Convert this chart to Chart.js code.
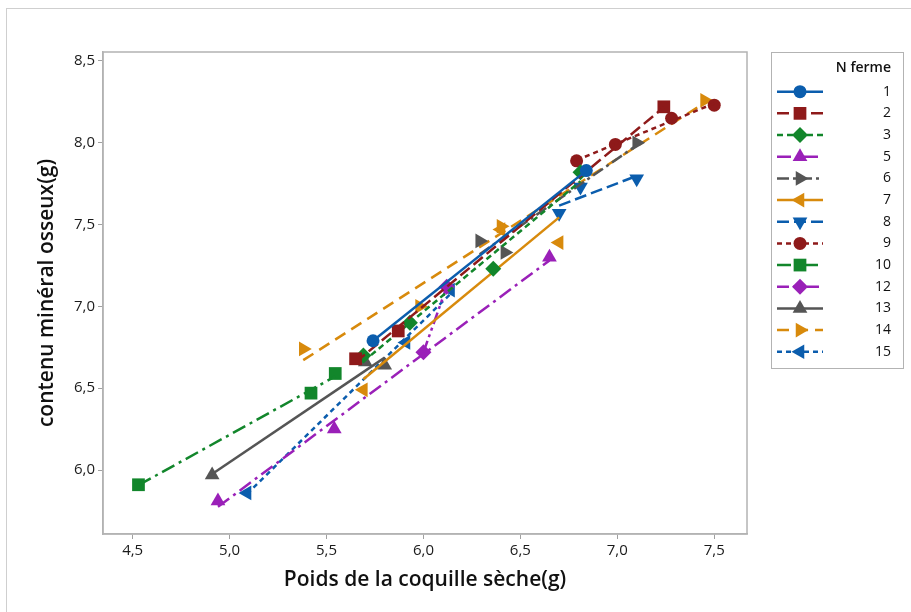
<!DOCTYPE html>
<html><head><meta charset="utf-8">
<script src="https://cdn.jsdelivr.net/npm/chart.js@4.4.1/dist/chart.umd.min.js"></script>
<style>html,body{margin:0;padding:0;background:#fff;} #wrap{position:relative;width:911px;height:612px;}</style>
</head><body><div id="wrap"><canvas id="c" width="911" height="612"></canvas></div>
<script>
// ---- data ----
const groupNames = ['1','2','3','5','6','7','8','9','10','12','13','14','15'];
const xF1 = [5.74, 6.84],             yF1 = [6.79, 7.83];
const xF2 = [5.65, 5.87, 7.24],       yF2 = [6.68, 6.85, 8.22];
const xF3 = [5.69, 5.93, 6.36, 6.81], yF3 = [6.70, 6.90, 7.23, 7.82];
const xF5 = [4.94, 5.54, 6.65],       yF5 = [5.81, 6.25, 7.30];
const xF6 = [6.29, 6.42, 7.10],       yF6 = [7.40, 7.33, 8.00];
const xF7 = [5.69, 6.40, 6.70],       yF7 = [6.49, 7.47, 7.39];
const xF8 = [6.70, 6.81, 7.10],       yF8 = [7.57, 7.73, 7.78];
const xF9 = [6.79, 6.99, 7.28, 7.50], yF9 = [7.89, 7.99, 8.15, 8.23];
const xF10 = [4.53, 5.42, 5.545],     yF10 = [5.91, 6.47, 6.59];
const xF12 = [6.00, 6.12],            yF12 = [6.72, 7.12];
const xF13 = [4.91, 5.70, 5.80],      yF13 = [5.97, 6.66, 6.64];
const xF14 = [5.38, 5.98, 6.40, 7.45],yF14 = [6.74, 7.00, 7.49, 8.26];
const xF15 = [5.09, 5.91, 6.14],      yF15 = [5.86, 6.78, 7.10];
const xTicks = [4.5, 5.0, 5.5, 6.0, 6.5, 7.0, 7.5];
const yTicks = [6.0, 6.5, 7.0, 7.5, 8.0, 8.5];

const seriesX = [xF1,xF2,xF3,xF5,xF6,xF7,xF8,xF9,xF10,xF12,xF13,xF14,xF15];
const seriesY = [yF1,yF2,yF3,yF5,yF6,yF7,yF8,yF9,yF10,yF12,yF13,yF14,yF15];

// ---- styles ----
const BLUE='#0B5DAD', RED='#8E1A1A', GREEN='#12862B', PURPLE='#9A20B8', GRAY='#555555', ORANGE='#D88A0C';
const styles = [
  {c:BLUE,   p:'circle',   r:0,   d:[]},
  {c:RED,    p:'rect',     r:0,   d:[12,5]},
  {c:GREEN,  p:'rectRot',  r:0,   d:[6,4]},
  {c:PURPLE, p:'triangle', r:0,   d:[14,5,3,5]},
  {c:GRAY,   p:'triangle', r:90,  d:[12,4,3,4]},
  {c:ORANGE, p:'triangle', r:270, d:[]},
  {c:BLUE,   p:'triangle', r:180, d:[12,5]},
  {c:RED,    p:'circle',   r:0,   d:[5,4]},
  {c:GREEN,  p:'rect',     r:0,   d:[14,5,3,5]},
  {c:PURPLE, p:'rectRot',  r:0,   d:[12,4,3,4,3,4]},
  {c:GRAY,   p:'triangle', r:0,   d:[]},
  {c:ORANGE, p:'triangle', r:90,  d:[12,7]},
  {c:BLUE,   p:'triangle', r:270, d:[5,4]}
];
const pointR = s => s.p==='circle' ? 6.5 : (s.p==='rect' ? 9 : (s.p==='rectRot' ? 8 : 8.5));

function fitLine(xs, ys){
  const n = xs.length;
  const mx = xs.reduce((a,b)=>a+b,0)/n, my = ys.reduce((a,b)=>a+b,0)/n;
  let sxy=0, sxx=0;
  for(let i=0;i<n;i++){ sxy+=(xs[i]-mx)*(ys[i]-my); sxx+=(xs[i]-mx)*(xs[i]-mx); }
  const b = sxy/sxx, a = my-b*mx;
  const lo = Math.min(...xs), hi = Math.max(...xs);
  return [{x:lo,y:a+b*lo},{x:hi,y:a+b*hi}];
}

const datasets = [];
seriesX.forEach((xs,i)=>{
  const s = styles[i];
  datasets.push({type:'line', label:'fit '+groupNames[i], data:fitLine(xs, seriesY[i]),
    borderColor:s.c, borderWidth:2.5, borderDash:s.d, pointRadius:0, fill:false, tension:0});
  datasets.push({type:'scatter', label:groupNames[i], data:xs.map((x,k)=>({x:x,y:seriesY[i][k]})),
    pointStyle:s.p, rotation:s.r, pointRadius:pointR(s), backgroundColor:s.c, borderColor:s.c, borderWidth:0});
});

const fmt = v => Number(v).toFixed(1).replace('.', ',');
const FONT = "'Open Sans', 'DejaVu Sans', sans-serif";

const decor = {
  id:'decor',
  beforeDraw(chart){
    const ctx = chart.ctx;
    ctx.save();
    ctx.fillStyle='#fff'; ctx.fillRect(0,0,911,612);
    ctx.strokeStyle='#cfcfcf'; ctx.lineWidth=1;
    ctx.strokeRect(6.5, 8.5, 920, 620);
    ctx.restore();
  },
  afterDraw(chart){
    const ctx = chart.ctx, a = chart.chartArea;
    ctx.save();
    ctx.strokeStyle='#b3b3b3'; ctx.lineWidth=1.5;
    ctx.strokeRect(a.left, a.top, a.right-a.left, a.bottom-a.top);
    // legend
    const lx0=771, ly0=52, lx1=903, ly1=368;
    ctx.lineWidth=1; ctx.strokeStyle='#b3b3b3';
    ctx.strokeRect(lx0+0.5, ly0+0.5, lx1-lx0, ly1-ly0);
    ctx.fillStyle='#111'; ctx.textAlign='right'; ctx.textBaseline='middle';
    ctx.font = "600 14px " + FONT;
    ctx.fillText('N ferme', 891, 68);
    ctx.font = "14px " + FONT;
    groupNames.forEach((g,i)=>{
      const s = styles[i], y = 91.7 + i*21.67;
      ctx.strokeStyle = s.c; ctx.fillStyle = s.c; ctx.lineWidth = 2.5;
      ctx.setLineDash(s.d);
      ctx.beginPath(); ctx.moveTo(777, y); ctx.lineTo(823, y); ctx.stroke();
      ctx.setLineDash([]);
      Chart.helpers.drawPoint(ctx, {pointStyle:s.p, rotation:s.r, radius:pointR(s), borderWidth:0}, 800, y);
      ctx.fillStyle='#111';
      ctx.fillText(g, 891, y);
    });
    ctx.restore();
  }
};

new Chart(document.getElementById('c'), {
  data:{datasets},
  options:{
    responsive:false, animation:false, devicePixelRatio:1,
    layout:{padding:{left:0, right:164, top:52, bottom:0}},
    plugins:{legend:{display:false}, tooltip:{enabled:false}},
    scales:{
      x:{type:'linear', min:4.347, max:7.669,
        afterBuildTicks: s => { s.ticks = xTicks.map(v=>({value:v})); },
        afterFit: s => { s.height = 78; },
        ticks:{callback:fmt, font:{family:FONT, size:15}, color:'#1a1a1a', padding:3, maxRotation:0},
        grid:{drawOnChartArea:false, drawTicks:true, tickLength:5, color:'#a0a0a0'},
        border:{display:true, color:'#b3b3b3', width:1.5},
        title:{display:true, text:'Poids de la coquille sèche(g)', color:'#111',
          font:{family:FONT, size:21, weight:'600'}, padding:{top:4, bottom:19}}
      },
      y:{type:'linear', min:5.609, max:8.555,
        afterBuildTicks: s => { s.ticks = yTicks.map(v=>({value:v})); },
        afterFit: s => { s.width = 103; },
        ticks:{callback:fmt, font:{family:FONT, size:15}, color:'#1a1a1a', padding:3},
        grid:{drawOnChartArea:false, drawTicks:true, tickLength:5, color:'#a0a0a0'},
        border:{display:true, color:'#b3b3b3', width:1.5},
        title:{display:true, text:'contenu minéral osseux(g)', color:'#111',
          font:{family:FONT, size:21, weight:'600'}, padding:{top:34, bottom:4}}
      }
    }
  },
  plugins:[decor]
});
</script></body></html>
